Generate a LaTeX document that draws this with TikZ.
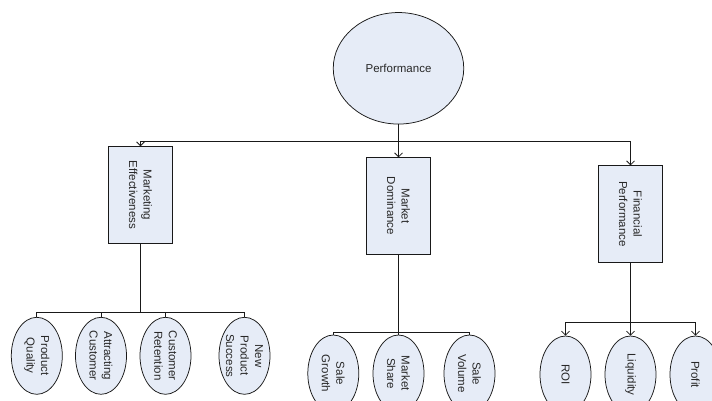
\documentclass[tikz,border=0pt]{standalone}
\usepackage{fontspec}
\setmainfont{Liberation Sans}
\usetikzlibrary{shapes.geometric,arrows.meta}
\definecolor{boxfill}{RGB}{230,236,247}
\definecolor{txt}{RGB}{40,40,40}
\definecolor{edge}{RGB}{25,25,25}
\tikzset{
  lbl/.style={rotate=-90,align=center,font=\fontsize{11.5}{14.5}\selectfont,text=txt,inner sep=0pt},
  rootnode/.style={ellipse,draw=edge,fill=boxfill,line width=0.75pt,minimum width=130.5pt,minimum height=111.5pt,inner sep=0pt,font=\fontsize{11.5}{14.5}\selectfont,text=txt},
  midbox/.style={rectangle,draw=edge,fill=boxfill,line width=0.8pt,minimum width=64pt,minimum height=96.6pt,inner sep=0pt},
  leaf/.style={ellipse,draw=edge,fill=boxfill,line width=0.75pt,minimum width=51pt,minimum height=77pt,inner sep=0pt},
  conn/.style={draw=edge,line width=0.75pt},
  mainconn/.style={draw=edge,line width=1.4pt},
  arr/.style={conn,-{Straight Barb[length=4pt,width=8pt]}},
}
\begin{document}
\begin{tikzpicture}[x=1pt,y=-1pt]
\useasboundingbox (0,0) rectangle (712,400);
\begin{scope}
\clip (0,0) rectangle (712,400);
% root
\node[rootnode] (perf) at (398.5,68.3) {Performance};
% boxes
\node[midbox,label={[lbl]center:{Marketing\\Effectiveness}}] (me) at (140.5,195) {};
\node[midbox,label={[lbl]center:{Market\\Dominance}}] (md) at (398.5,206) {};
\node[midbox,label={[lbl]center:{Financial\\Performance}}] (fp) at (630.5,214) {};
% bus coordinates
\coordinate (bus) at (0,141.5);
\coordinate (lbus) at (0,312);
\coordinate (mbus) at (0,332.7);
\coordinate (rbus) at (0,322.3);
% leaves left
\node[leaf,label={[lbl]center:{Product\\Quality}}] (pq) at (36.8,355.8) {};
\node[leaf,label={[lbl]center:{Attracting\\Customer}}] (ac) at (101,355.8) {};
\node[leaf,label={[lbl]center:{Customer\\Retention}}] (cr) at (165.5,355.8) {};
\node[leaf,label={[lbl]center:{New\\Product\\Success}}] (nps) at (244.5,355.8) {};
% leaves middle
\node[leaf,label={[lbl]center:{Sale\\Growth}}] (sg) at (333.3,373.5) {};
\node[leaf,label={[lbl]center:{Market\\Share}}] (ms) at (398.5,373.5) {};
\node[leaf,label={[lbl]center:{Sale\\Volume}}] (sv) at (469.5,373.5) {};
% leaves right
\node[leaf,label={[lbl]center:{ROI}}] (roi) at (565.5,374.5) {};
\node[leaf,label={[lbl]center:{Liquidity}}] (lq) at (630.5,374.5) {};
\node[leaf,label={[lbl]center:{Profit}}] (pr) at (695.5,374.5) {};
% top connectors
\draw[arr] (perf.south) -- (md.north);
\draw[arr] (md.north |- bus) -| (me.north);
\draw[arr] (md.north |- bus) -| (fp.north);
% left group
\draw[mainconn] (me.south) -- (me.south |- lbus);
\foreach \n in {pq,ac,cr,nps} \draw[conn] (me.south |- lbus) -| (\n.north);
% middle group
\draw[mainconn] (md.south) -- (md.south |- mbus);
\foreach \n in {sg,ms,sv} \draw[conn] (md.south |- mbus) -| (\n.north);
% right group
\draw[conn] (fp.south) -- (fp.south |- rbus);
\foreach \n in {roi,lq,pr} \draw[arr] (fp.south |- rbus) -| (\n.north);
\end{scope}
\end{tikzpicture}
\end{document}
